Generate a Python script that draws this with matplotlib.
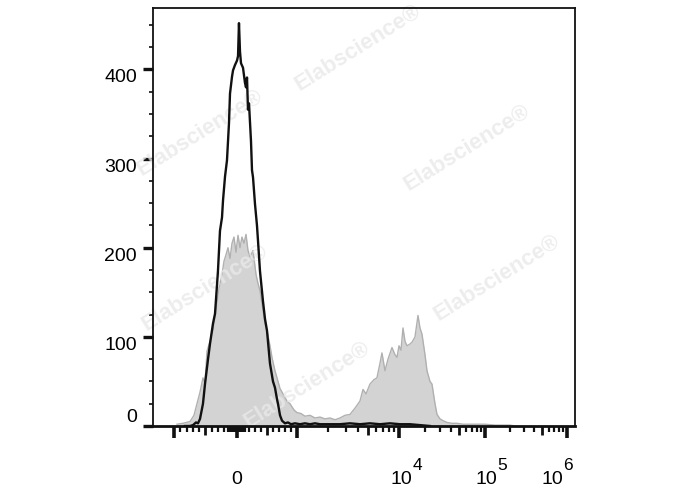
import numpy as np
import matplotlib
matplotlib.use('Agg')
import matplotlib.pyplot as plt

plt.rcParams['font.family'] = ['Liberation Sans', 'DejaVu Sans']

# gray filled histogram (stained sample)
gray_x = [-952, -857, -746, -683, -635, -587, -540, -508, -476, -429, -381, -333, -286, -238,
          -206, -175, -143, -111, -79, -48, -16, 17, 50, 83, 117, 150, 183, 217, 267, 317,
          350, 383, 433, 467, 500, 550, 583, 633, 667, 717, 767, 833, 883, 950, 1000, 1094,
          1198, 1341, 1501, 1681, 1881, 2106, 2358, 2639, 2955, 3307, 3702, 4145, 4438, 4751,
          5192, 5683, 6078, 6500, 6807, 7287, 7801, 8535, 9136, 9562, 10000, 10550, 11130,
          11742, 12388, 13425, 14164, 15350, 16630, 17550, 18510, 20060, 21160, 22930, 24190,
          26220, 27660, 29970, 32480, 36100, 41340, 47250, 55400, 66900, 80700, 100000,
          132400, 201600, 231500]
gray_y = [2, 3, 5, 12, 25, 38, 54, 48, 84, 95, 107, 130, 155, 170,
          185, 192, 200, 188, 205, 212, 195, 214, 200, 212, 205, 215, 197, 190, 197, 170,
          160, 152, 130, 115, 107, 90, 77, 62, 54, 42, 36, 28, 25, 18, 15, 14,
          11, 12, 9, 10, 8, 9, 7, 9, 12, 13, 20, 28, 41, 36,
          47, 52, 54, 70, 82, 62, 75, 88, 80, 77, 90, 85, 110,
          95, 90, 92, 94, 100, 124, 110, 103, 80, 62, 50, 47,
          25, 13, 8, 6, 4, 3, 3, 2, 2, 2, 2,
          1, 1, 0]

# black line histogram (control)
black_x = [-825, -746, -698, -651, -619, -587, -540, -508, -460, -429, -381, -349, -302, -270,
           -238, -222, -190, -159, -127, -111, -79, -63, -32, 0, 17, 33, 50, 67, 100, 133,
           150, 167, 183, 200, 233, 250, 267, 300, 333, 350, 383, 433, 467, 500, 550, 600,
           633, 667, 683, 717, 750, 800, 850, 900, 967, 1070, 1198, 1341, 1501, 1681, 2106,
           2639, 3307, 4145, 5192, 6500, 8160, 10270, 13425, 17550, 22930]
black_y = [0, 0, 1, 4, 3, 8, 25, 47, 75, 92, 115, 126, 174, 219,
           234, 253, 280, 298, 340, 373, 392, 399, 405, 410, 415, 452, 420, 407, 402, 385,
           380, 391, 355, 362, 320, 287, 279, 249, 225, 208, 174, 140, 120, 107, 70, 50,
           43, 30, 25, 12, 6, 3, 4, 2, 3, 2, 3, 2, 3, 2, 2,
           2, 3, 2, 3, 2, 3, 2, 2, 1, 0]

x_major = [-1000, 0, 1000, 10000, 100000, 1000000]
x_medium = [-500, 500, 5000, 50000, 500000]
# (value, base, exponent, horizontal offset of base's right edge in px)
x_labels = [(10000, '10', '4', 13), (100000, '10', '5', 12), (1000000, '10', '6', -4)]
y_labels = [0, 100, 200, 300, 400]

# biexponential-like display: linear around 0, log above 10^3
T_KNOTS = np.array([-3.0, -1.0, 0.0, 1.0, 2.0, 3.0, 4.0, 5.0])
P_KNOTS = np.array([48.0, 174.0, 237.0, 297.0, 399.0, 485.0, 567.0, 649.0])


def to_t(x):
    x = np.asarray(x, float)
    a = np.abs(x)
    return np.where(a <= 1000, x / 1000, np.sign(x) * (1 + np.log10(np.maximum(a, 1000) / 1000)))


def from_t(t):
    t = np.asarray(t, float)
    a = np.abs(t)
    return np.where(a <= 1, t * 1000, np.sign(t) * 1000 * 10 ** (np.maximum(a, 1) - 1))


def forward(x):
    return np.interp(to_t(x), T_KNOTS, P_KNOTS)


def inverse(p):
    return from_t(np.interp(p, P_KNOTS, T_KNOTS))


fig = plt.figure(figsize=(6.88, 4.9), dpi=100)
ax = fig.add_axes([153 / 688, 1 - 426 / 490, 422 / 688, 418 / 490])
ax.set_xscale('function', functions=(forward, inverse))

ax.fill_between(gray_x, gray_y, color='#d3d3d3', lw=0, zorder=1)
ax.plot(gray_x, gray_y, color='#b0b0b0', lw=1.0, zorder=1.2)
ax.plot(black_x, black_y, color='#111111', lw=1.7, zorder=3)

ax.set_xlim(-2154, 1.252e6)
ax.set_ylim(0, 469)

# minor ticks
minor = list(range(-900, 1000, 100))
minor = [m for m in minor if m not in (-500, 0, 500)]
minor += [m for m in range(-140, 160, 20) if m != 0]
for dec in (1000, 10000, 100000):
    minor += [k * dec for k in (2, 3, 4, 6, 7, 8, 9)]
ax.set_xticks(x_major + x_medium)
ax.set_xticks(minor, minor=True)
ax.set_xticklabels([''] * (len(x_major) + len(x_medium)))
ax.set_yticks(y_labels)
ax.set_yticks(np.arange(25, 460, 25), minor=True)
ax.set_yticklabels([])

ax.tick_params(axis='x', which='major', direction='out', length=8.5, width=2.6, color='#111111')
ax.tick_params(axis='x', which='minor', direction='out', length=4.5, width=1.6, color='#111111')
ax.tick_params(axis='y', which='major', direction='out', length=7.5, width=2.4, color='#111111')
ax.tick_params(axis='y', which='minor', direction='out', length=3.2, width=1.2, color='#111111')

fig.canvas.draw()
for tick, loc in zip(ax.xaxis.get_major_ticks(), x_major + x_medium):
    if loc in x_medium:
        tick.tick1line.set_markersize(6.5)
        tick.tick1line.set_markeredgewidth(2.0)

for s in ax.spines.values():
    s.set_color('#111111')
ax.spines['left'].set_linewidth(1.3)
ax.spines['bottom'].set_linewidth(2.0)
ax.spines['top'].set_linewidth(1.3)
ax.spines['right'].set_linewidth(1.3)

# x tick labels: baseline 58 px below the axis, exponent raised
xt = ax.get_xaxis_transform()
ax.annotate('0', xy=(0, 0), xycoords=xt, xytext=(0, -58), textcoords='offset pixels',
            ha='center', va='baseline', fontsize=14, annotation_clip=False)
for v, base, exp, dx in x_labels:
    ax.annotate(base, xy=(v, 0), xycoords=xt, xytext=(dx, -58), textcoords='offset pixels',
                ha='right', va='baseline', fontsize=14, annotation_clip=False)
    ax.annotate(exp, xy=(v, 0), xycoords=xt, xytext=(dx + 0.5, -44), textcoords='offset pixels',
                ha='left', va='baseline', fontsize=12.5, annotation_clip=False)

yt = ax.get_yaxis_transform()
for v in y_labels:
    ax.text(-0.038, v, str(v), transform=yt, ha='right',
            va='bottom' if v == 0 else 'top', fontsize=14, clip_on=False)

# watermarks
for cx, cy in [(358, 48), (200, 133), (467, 148), (497, 278), (205, 288), (307, 385)]:
    ax.text(cx / 688, 1 - cy / 490, 'Elabscience\u00ae', transform=fig.transFigure,
            rotation=32, ha='center', va='center', fontsize=16, fontweight='bold',
            color='#e9e9e9', alpha=0.8, zorder=2, clip_on=False)

fig.savefig('out.png', dpi=100)
